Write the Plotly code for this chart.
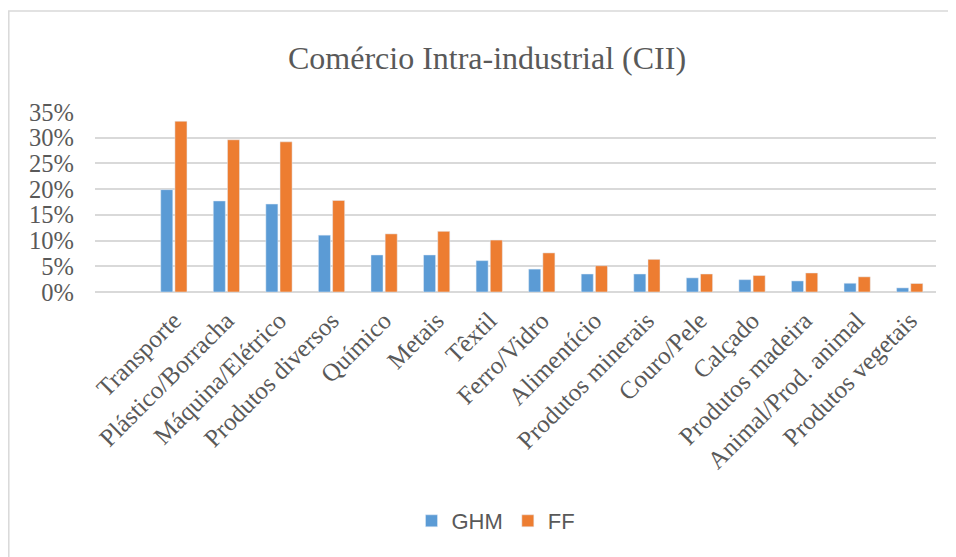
import plotly.graph_objects as go

categories = ["Transporte", "Plástico/Borracha", "Máquina/Elétrico", "Produtos diversos",
              "Químico", "Metais", "Têxtil", "Ferro/Vidro", "Alimentício",
              "Produtos minerais", "Couro/Pele", "Calçado", "Produtos madeira",
              "Animal/Prod. animal", "Produtos vegetais"]
ghm = [19.9, 17.7, 17.1, 11.05, 7.2, 7.2, 6.1, 4.45, 3.5, 3.5, 2.75, 2.4, 2.15, 1.7, 0.8]
ff = [33.2, 29.6, 29.2, 17.8, 11.3, 11.8, 10.1, 7.6, 5.1, 6.35, 3.5, 3.2, 3.7, 2.95, 1.65]
y_ticks = [0, 5, 10, 15, 20, 25, 30, 35]
y_tick_labels = [f"{v}%" for v in y_ticks]

# page body has an 8px margin: work in page pixels and shift by OFF
OFF = 8
W, H = 956 - OFF, 557 - OFF
L, R, T, B = 95 - OFF, 20, 112 - OFF, 265
pw, ph = W - L - R, H - T - B

def px_x(x):
    return (x - OFF - L) / pw

def px_y(y):
    return (H - B - (y - OFF)) / ph

serif = "Liberation Serif, Times New Roman, serif"
grey = "#595959"

fig = go.Figure()
fig.add_trace(go.Bar(name="GHM", x=categories, y=ghm, marker_color="#5B9BD5"))
fig.add_trace(go.Bar(name="FF", x=categories, y=ff, marker_color="#ED7D31"))

fig.update_layout(
    width=W, height=H,
    margin=dict(l=L, r=R, t=T, b=B),
    paper_bgcolor="white", plot_bgcolor="white",
    barmode="group", bargap=0.46, bargroupgap=0.15,
    title=dict(text="Comércio Intra-industrial (CII)", x=(487 - OFF) / W, xanchor="center",
               y=1 - (58 - OFF) / H, yanchor="middle", yref="container",
               font=dict(family=serif, size=32, color=grey)),
    legend=dict(orientation="h", x=(496 - OFF) / W, xanchor="center", xref="container",
                y=1 - (521 - OFF) / H, yanchor="middle", yref="container",
                font=dict(family="Liberation Sans, Arial, sans-serif", size=22, color=grey),
                itemwidth=30, traceorder="normal"),
    xaxis=dict(type="category", range=[-1.5, len(categories) - 0.5],
               tickangle=-45, tickfont=dict(family=serif, size=25, color=grey),
               showgrid=False, showline=False, ticks="", ticklabelstandoff=8),
    yaxis=dict(range=[0, 35], tickvals=y_ticks, ticktext=y_tick_labels,
               tickfont=dict(family=serif, size=24.5, color=grey),
               showgrid=True, gridcolor="#D9D9D9", gridwidth=1.5,
               zeroline=True, zerolinecolor="#D9D9D9", zerolinewidth=1.5,
               showline=False, ticks="", ticklabelstandoff=20),
    shapes=[dict(type="rect", xref="paper", yref="paper",
                 x0=px_x(8.8), x1=px_x(955), y0=px_y(562), y1=px_y(11),
                 line=dict(color="#D9D9D9", width=1.5), layer="below")],
)

fig.write_html("out.html")
